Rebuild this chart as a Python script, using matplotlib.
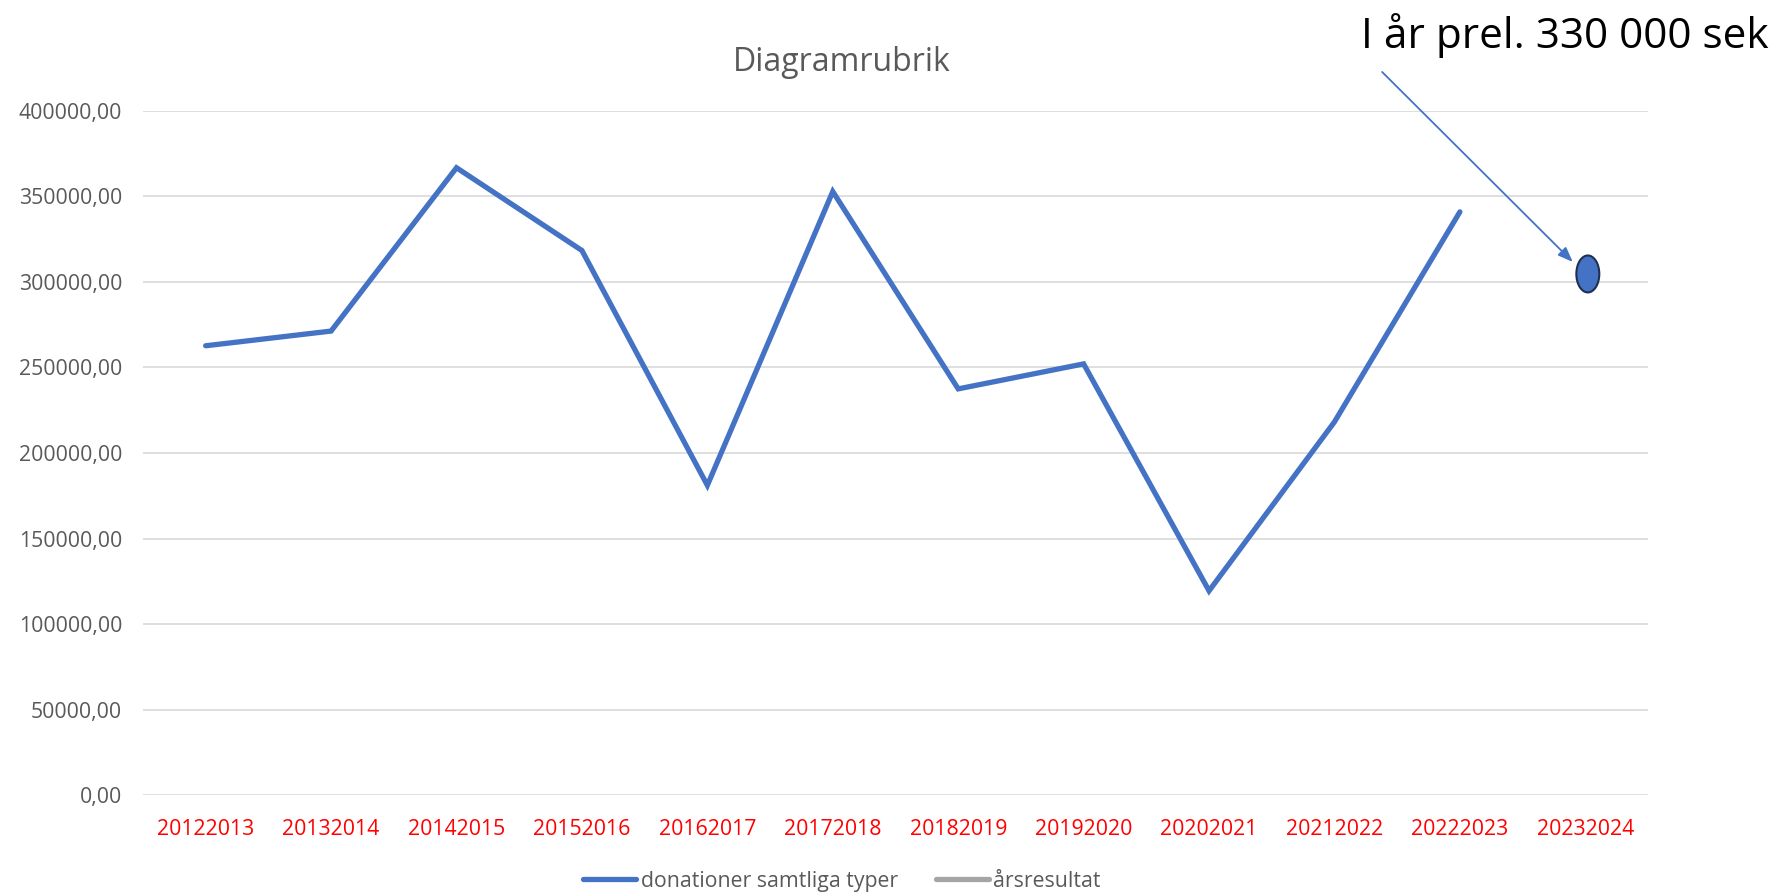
import matplotlib.pyplot as plt
from matplotlib.lines import Line2D
from matplotlib.patches import Ellipse
from matplotlib.ticker import FuncFormatter, MultipleLocator

plt.rcParams['font.family'] = ['Open Sans', 'DejaVu Sans']

# data
years = ['20122013', '20132014', '20142015', '20152016', '20162017', '20172018',
         '20182019', '20192020', '20202021', '20212022', '20222023', '20232024']
donations = [262700, 271300, 366800, 318400, 181100, 352900,
             237500, 252100, 119400, 218200, 341000]
prel_value = 304700   # this year's preliminary mark
note = 'I år prel. 330 000 sek'

blue = '#4472C4'
grey_txt = '#595959'

fig = plt.figure(figsize=(17.78, 8.92), dpi=100)
ax = fig.add_axes([0.0804, 0.1087, 0.8465, 0.7669])

x = list(range(len(donations)))
ax.plot(x, donations, color=blue, lw=3.8, solid_capstyle='round', solid_joinstyle='miter')

# the hand-drawn ellipse for this year
ax.add_patch(Ellipse((len(years) - 1 + 0.02, prel_value), 0.183, 21600,
                     facecolor=blue, edgecolor='#1F3050', lw=1.5, zorder=5))

ax.annotate('', xy=(10.90, 311700), xytext=(9.38, 422800),
            xycoords='data', annotation_clip=False,
            arrowprops=dict(arrowstyle='-|>,head_length=0.9,head_width=0.35',
                            color=blue, lw=1.3, shrinkA=0, shrinkB=0))

ax.set_xlim(-0.5, len(years) - 0.5)
ax.set_ylim(0, 400000)
ax.yaxis.set_major_locator(MultipleLocator(50000))
ax.yaxis.set_major_formatter(FuncFormatter(lambda v, p: f'{v:.2f}'.replace('.', ',')))
ax.set_xticks(range(len(years)))
ax.set_xticklabels(years, color='red', fontsize=15.3)
ax.tick_params(axis='y', labelsize=15.3, labelcolor=grey_txt)
ax.tick_params(length=0)
ax.tick_params(axis='x', pad=17.5)
ax.tick_params(axis='y', pad=15)
ax.grid(axis='y', color='#D9D9D9', lw=1.2)
ax.set_axisbelow(True)
for s in ax.spines.values():
    s.set_visible(False)

fig.text(0.4736, 0.930, 'Diagramrubrik', ha='center', va='center',
         fontsize=23, color=grey_txt)
fig.text(0.7655, 0.946, note, ha='left', va='baseline', fontsize=30.4, color='black')

handles = [Line2D([], [], color=blue, lw=3.8, solid_capstyle='round'),
           Line2D([], [], color='#A5A5A5', lw=3.8, solid_capstyle='round')]
fig.legend(handles, ['donationer samtliga typer', 'årsresultat'],
           loc='center', bbox_to_anchor=(0.4736, 0.0120), ncol=2, frameon=False,
           fontsize=15.3, labelcolor=grey_txt, handlelength=2.5, handletextpad=0.2,
           columnspacing=1.8)

fig.savefig('out.png', dpi=100)
